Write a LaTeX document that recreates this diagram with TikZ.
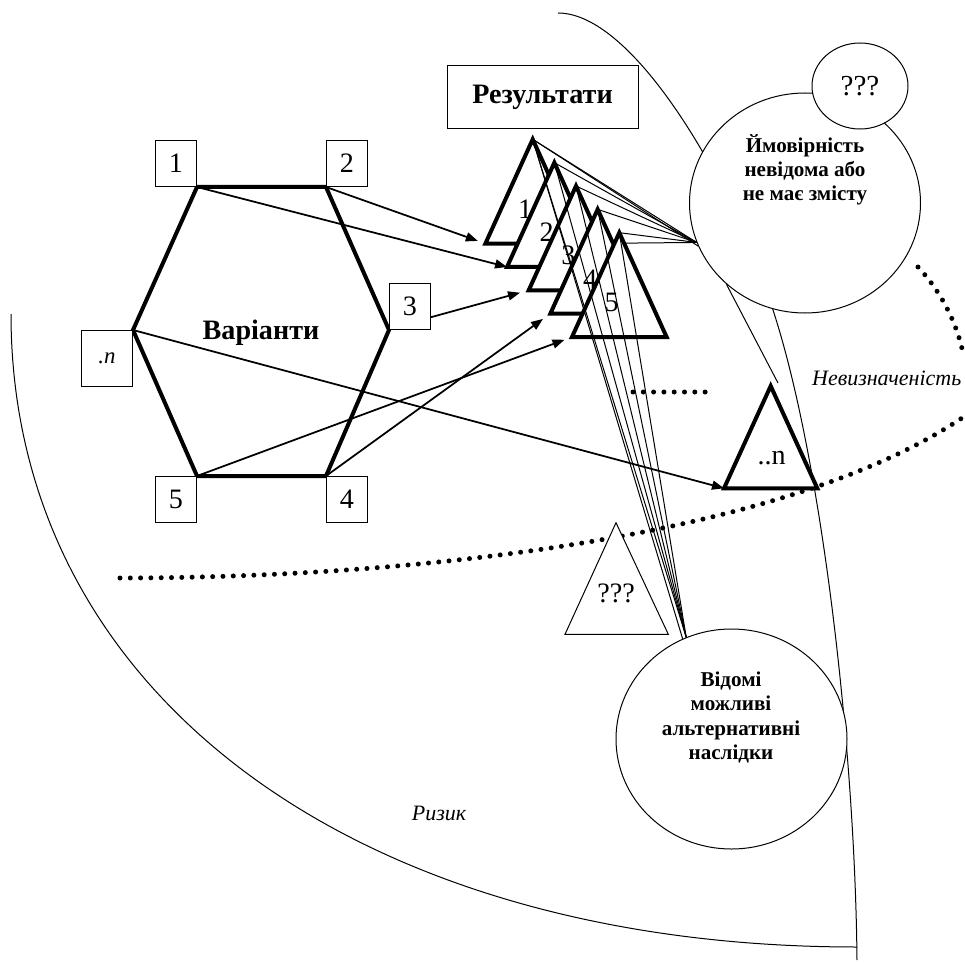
\documentclass[tikz,border=0pt]{standalone}
\usepackage{fontspec}
\setmainfont{Liberation Serif}
\usetikzlibrary{shapes.geometric, arrows.meta, positioning, calc}

\begin{document}
\begin{tikzpicture}[x=0.2mm, y=-0.2mm,
    numbox/.style={rectangle, draw=black, line width=0.2mm, fill=white, inner sep=0pt,
                   minimum width=8.2mm, minimum height=9.2mm, font=\fontsize{16}{19}\selectfont},
    nbox/.style={numbox, minimum width=10.2mm, minimum height=11.2mm, font=\itshape\fontsize{13}{15}\selectfont},
    titlebox/.style={rectangle, draw=black, line width=0.2mm, fill=white, inner sep=0pt,
                     minimum width=38.2mm, minimum height=12.6mm, font=\bfseries\fontsize{16}{19}\selectfont},
    bubble/.style={ellipse, draw=black, line width=0.2mm, fill=white, inner sep=0pt,
                   minimum width=46.2mm, minimum height=44mm},
    bubbletext/.style={align=center, inner sep=0pt, font=\bfseries\fontsize{12}{13.7}\selectfont},
    zonelabel/.style={inner sep=0pt, font=\itshape\fontsize{12.5}{15}\selectfont},
    biglabel/.style={inner sep=0pt, font=\fontsize{16}{19}\selectfont},
    thickedge/.style={line width=0.8mm, line join=miter},
    result/.style={thickedge, fill=white},
    thinline/.style={line width=0.2mm},
    arrow/.style={-{Triangle[length=2.4mm,width=1.8mm]}, line width=0.35mm},
    dotline/.style={line width=1mm, line cap=round, dash pattern=on 0pt off 2.06mm}]

    \useasboundingbox (0,0) rectangle (965,964);

    % Zone borders
    \draw[thinline] (11,314) .. controls (11,694) and (357,947) .. (857,947);
    \draw[thinline] (558,13) .. controls (638,13) and (740,200) .. (773,310)
                             .. controls (822,460) and (855,750) .. (857,960);
    \draw[dotline] (120,578) .. controls (400,578) and (780,540) .. (962,418);
    \draw[dotline] (918,267) .. controls (935,285) and (955,315) .. (963,353);
    \draw[dotline] (633,392) -- (715,392);

    % Variants
    \coordinate (v1) at (197,187);
    \coordinate (v2) at (326,187);
    \coordinate (v3) at (389,330);
    \coordinate (v4) at (326,476);
    \coordinate (v5) at (197,476);
    \coordinate (v6) at (133,330);
    \draw[thickedge] (v1) -- (v2) -- (v3) -- (v4) -- (v5) -- (v6) -- cycle;
    \node[inner sep=0pt, font=\bfseries\fontsize{16}{19}\selectfont] (var) at (261,333) {Варіанти};

    \node[numbox, anchor=south east] (b1) at (v1) {1};
    \node[numbox, anchor=south west] (b2) at (v2) {2};
    \node[numbox, anchor=south west] (b3) at (v3) {3};
    \node[numbox, anchor=north west] (b4) at (v4) {4};
    \node[numbox, anchor=north east] (b5) at (v5) {5};
    \node[nbox, anchor=north east] (bn) at (v6) {.n};

    % Results
    \foreach \k in {1,...,5} {
        \pgfmathsetmacro{\ax}{532.7+21.65*(\k-1)}
        \pgfmathsetmacro{\ay}{139.3+23.35*(\k-1)}
        \coordinate (t\k-a) at (\ax,\ay);
        \coordinate (t\k-l) at (\ax-47.3,\ay+104.3);
        \coordinate (t\k-r) at (\ax+47.3,\ay+104.3);
        \draw[result] (t\k-a) -- (t\k-l) -- (t\k-r) -- cycle;
        \node[biglabel] (tl\k) at (\ax-7.6,\ay+69.5) {\k};
    }
    \coordinate (tn-a) at (770.7,386);
    \coordinate (tn-l) at (724,488.3);
    \coordinate (tn-r) at (817.3,488.3);
    \draw[result] (tn-a) -- (tn-l) -- (tn-r) -- cycle;
    \node[biglabel] (tln) at (771.7,458.3) {..n};

    \coordinate (tq-a) at (616,522.7);
    \coordinate (tq-l) at (565,634.3);
    \coordinate (tq-r) at (668.3,634.3);
    \draw[thinline, fill=white] (tq-a) -- (tq-l) -- (tq-r) -- cycle;
    \node[biglabel] (tlq) at (616,593.3) {???};

    \node[titlebox] (res) at (542.5,97.5) {Результати};

    % Bubbles
    \node[bubble] (prob) at (805,203) {};
    \node[bubble] (known) at (731.5,739) {};
    \node[ellipse, draw=black, line width=0.2mm, fill=white, inner sep=0pt,
          minimum width=19.2mm, minimum height=17.2mm, font=\fontsize{16.5}{19}\selectfont] (qm) at (860,86) {???};
    \node[bubbletext] (probtxt) at (805,170) {Ймовірність\\невідома або\\не має змісту};
    \node[bubbletext] (knowntxt) at (731,717.5) {Відомі\\можливі\\альтернативні\\наслідки};

    % Rays
    \foreach \k in {1,...,5} {
        \draw[thinline] (t\k-a) -- (prob.200);
        \draw[thinline] (t\k-a) -- (known.114);
    }
    \draw[thinline] (t1-a) -- (prob.202);
    \draw[thinline] (t1-a) -- (known.116);
    \draw[thinline] ($(t5-a)!0.1!(t5-r)$) -- (prob.200);
    \coordinate (ptr) at (778,383);
    \draw[thinline] (prob.226) -- (ptr);

    % Arrows
    \draw[arrow, shorten >=1.6mm] (v2) -- (t1-l);
    \draw[arrow] (v1) -- (t2-l);
    \draw[arrow, shorten >=1.8mm] (b3.-27) -- (t3-l);
    \draw[arrow, shorten >=1.8mm] (v4) -- (t4-l);
    \draw[arrow, shorten >=1.6mm] (v5) -- (t5-l);
    \draw[arrow] (v6) -- (tn-l);

    % Zones
    \node[zonelabel] (unc) at (886.7,378.3) {Невизначеність};
    \node[zonelabel] (risk) at (439,813) {Ризик};

\end{tikzpicture}
\end{document}
